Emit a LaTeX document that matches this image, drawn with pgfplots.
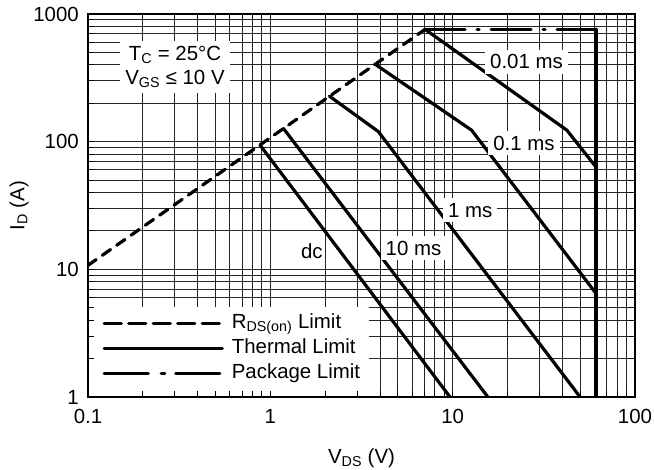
\documentclass[border=0pt]{standalone}
\usepackage{fontspec}
\setmainfont{Liberation Sans}
\usepackage{pgfplots}
\pgfplotsset{compat=1.18}
\newcommand{\chartfont}{\fontsize{20.5}{24}\selectfont}
\tikzset{
  soa/.style={line width=3.2bp, black, line join=round, line cap=round},
  rds/.style={soa, dash pattern=on 10bp off 7.5bp},
  pkg/.style={soa, dash pattern=on 40bp off 12bp on 2bp off 12bp},
  lbl/.style={fill=white, inner xsep=5bp, inner ysep=5bp, font=\chartfont}
}
\begin{document}
\begin{tikzpicture}[font=\chartfont]
\path[use as bounding box] (-88bp,-73bp) rectangle (566bp,397bp);
\begin{axis}[
  scale only axis,
  width=547bp, height=383bp,
  xmode=log, ymode=log,
  xmin=0.1, xmax=100, ymin=1, ymax=1000,
  xtick={0.1,1,10,100}, ytick={1,10,100,1000},
  log ticks with fixed point,
  /pgf/number format/1000 sep={},
  /pgf/number format/assume math mode=true,
  grid=both,
  major grid style={line width=1bp, black!85},
  minor grid style={line width=1bp, black!85},
  axis line style={line width=2.2bp, black},
  tick style={line width=1bp, black},
  major tick length=6bp, minor tick length=6bp,
  tick align=inside,
  every tick label/.append style={font=\chartfont, inner sep=0pt},
  every x tick label/.append style={anchor=center, yshift=-19bp},
  every y tick label/.append style={anchor=east, xshift=-9bp},
  xlabel={V\textsubscript{DS} (V)},
  ylabel={I\textsubscript{D} (A)},
  every axis x label/.style={at={(axis description cs:0.5,-0.159)}, anchor=center, font=\chartfont},
  every axis y label/.style={at={(axis description cs:-0.126,0.5)}, anchor=center, rotate=90, font=\chartfont},
  legend style={at={(axis description cs:0.01,0.016)}, anchor=south west,
    fill=white, draw=none, inner xsep=9bp, inner ysep=7bp,
    row sep=5bp, column sep=8bp,
    nodes={inner sep=0pt, anchor=west, font=\chartfont, text height=15bp, text depth=5bp}},
  legend cell align=left,
  legend image code/.code={\draw[#1] (0bp,0bp) -- (118bp,0bp);},
]
% RDS(on) limit
\addplot[rds, forget plot] coordinates {(0.1,10.75) (7.06,758)};
% package limit
\addplot[pkg, forget plot] coordinates {(7.06,758) (61,758)};
% voltage limit
\addplot[soa, line width=3.4bp, forget plot] coordinates {(61,758) (61,1)};
% thermal limits
\addplot[soa, forget plot] coordinates {(7.06,758) (42.3,123) (61,63.5)};
\addplot[soa, forget plot] coordinates {(3.75,405) (12.7,123) (61,6.5)};
\addplot[soa, forget plot] coordinates {(2.11,227) (3.91,120) (50,1)};
\addplot[soa, forget plot] coordinates {(1.18,127) (15.6,1)};
\addplot[soa, forget plot] coordinates {(0.878,94) (9.67,1)};

\addlegendimage{soa, dash pattern=on 17bp off 7.5bp}
\addlegendentry{R\textsubscript{DS(on)} Limit}
\addlegendimage{soa}
\addlegendentry{Thermal Limit}
\addlegendimage{soa, dash pattern=on 44bp off 13bp on 3.5bp off 11bp}
\addlegendentry{Package Limit}

\node[lbl, align=center] at (axis cs:0.3,385) {T\textsubscript{C} = 25°C\\V\textsubscript{GS} ≤ 10 V};
\node[lbl] at (axis cs:25.4,421) {0.01 ms};
\node[lbl] at (axis cs:24.6,97.5) {0.1 ms};
\node[lbl] at (axis cs:12.5,29.1) {1 ms};
\node[lbl] at (axis cs:6.1,14.7) {10 ms};
\node[lbl, inner xsep=2bp] at (axis cs:1.69,13.9) {dc};
\end{axis}
\end{tikzpicture}
\end{document}
